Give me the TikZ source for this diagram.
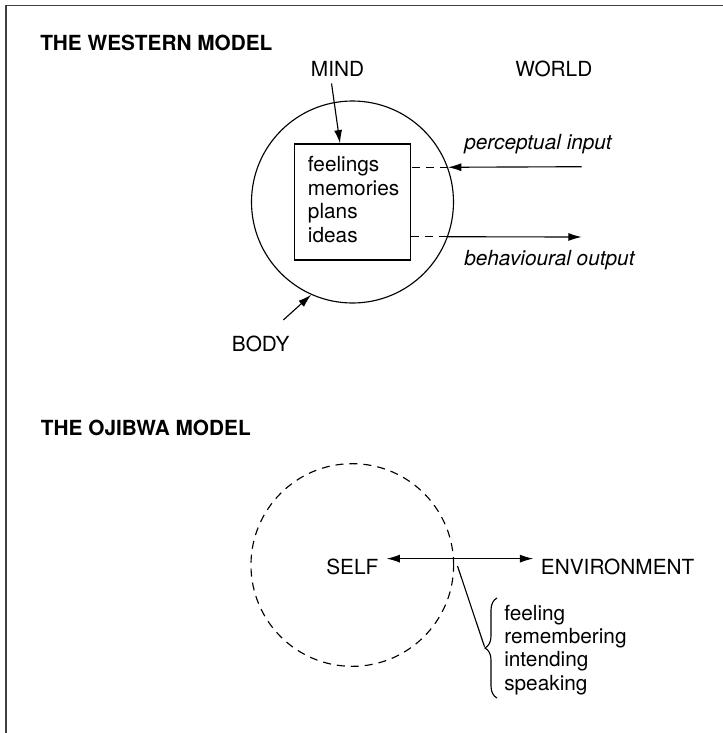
\documentclass[tikz,border=0pt]{standalone}
\usepackage{fontspec}
\setmainfont{TeX Gyre Heros}
\usetikzlibrary{arrows.meta,decorations.pathreplacing,calc}
\begin{document}
\begin{tikzpicture}[x=0.75pt,y=-0.75pt,
  lbl/.style={anchor=base west,inner sep=0pt,font=\fontsize{15.6}{18}\selectfont},
  hdr/.style={lbl,font=\fontsize{15.6}{18}\selectfont\bfseries},
  itl/.style={lbl,font=\fontsize{15.6}{18}\selectfont\itshape},
  conn/.style={line width=0.85pt},
  tip/.tip={Latex[length=10pt,width=6pt]},
  arr/.style={conn,-tip},
  dsh/.style={conn,dash pattern=on 6pt off 4.5pt},
]
\useasboundingbox (0,0) rectangle (723,733);
\draw[line width=1.3pt,black!75] (6,733) -- (6,5.5) -- (723,5.5);

% ---------- Western model ----------
\node[hdr] (h1) at (40,50) {THE WESTERN MODEL};
\node[lbl] (mind) at (310.7,76.7) {MIND};
\node[lbl] (world) at (515,76.7) {WORLD};

\node[conn,draw,circle,minimum size=151.5pt,inner sep=0pt] (body) at (352.5,202) {};
\node[conn,draw,rectangle,minimum width=87pt,minimum height=87pt,inner sep=0pt] (box) at (352.3,202) {};

\node[lbl] (l1) at (307.7,171.7) {feelings};
\node[lbl] (l2) at (307.7,195.2) {memories};
\node[lbl] (l3) at (307.7,218.6) {plans};
\node[lbl] (l4) at (307.7,242.1) {ideas};

\coordinate (mindS) at ($(mind.south)+(-6,6.5)$);
\coordinate (mindT) at ($(box.north)+(-12.3,0)$);
\draw[arr] (mindS) -- (mindT);

\node[itl] (pin) at (464,149.3) {perceptual input};
\node[itl] (bout) at (464,265.5) {behavioural output};

\coordinate (inT) at (body.20.5);
\coordinate (inS) at (581.7,166.7);
\draw[arr] (inS) -- (inT);
\draw[dsh] (inT) -- (box.east |- inT);

\coordinate (outC) at (body.-20.3);
\coordinate (outE) at (581.7,237);
\draw[dsh] (box.east |- outC) -- (outC);
\draw[arr] (outC) -- (outE);

\node[lbl] (bodylbl) at (231.7,351.7) {BODY};
\coordinate (bodyS) at (283.3,320);
\draw[arr] (bodyS) -- (body.246.5);

% ---------- Ojibwa model ----------
\node[hdr] (h2) at (40.7,435) {THE OJIBWA MODEL};
\node[conn,draw,circle,dash pattern=on 6pt off 4.5pt,minimum size=152pt,inner sep=0pt] (self circ) at (352.3,565) {};
\node[lbl] (self) at (326,574) {SELF};
\node[lbl] (env) at (540.7,574) {ENVIRONMENT};
\draw[conn,tip-tip]
  ($(self.east)+(8,-7.8)$) -- ($(env.west)+(-7.4,-7.8)$);

\coordinate (cross) at (457.5,566);
\coordinate (btip) at (484.5,646.7);
\draw[conn] (cross) -- (btip);
\draw[conn,decorate,decoration={brace,amplitude=9pt}] (497,698) -- (497,598);

\node[lbl] (o1) at (504,620) {feeling};
\node[lbl] (o2) at (504,643.3) {remembering};
\node[lbl] (o3) at (504,666.7) {intending};
\node[lbl] (o4) at (504,690) {speaking};
\end{tikzpicture}
\end{document}
